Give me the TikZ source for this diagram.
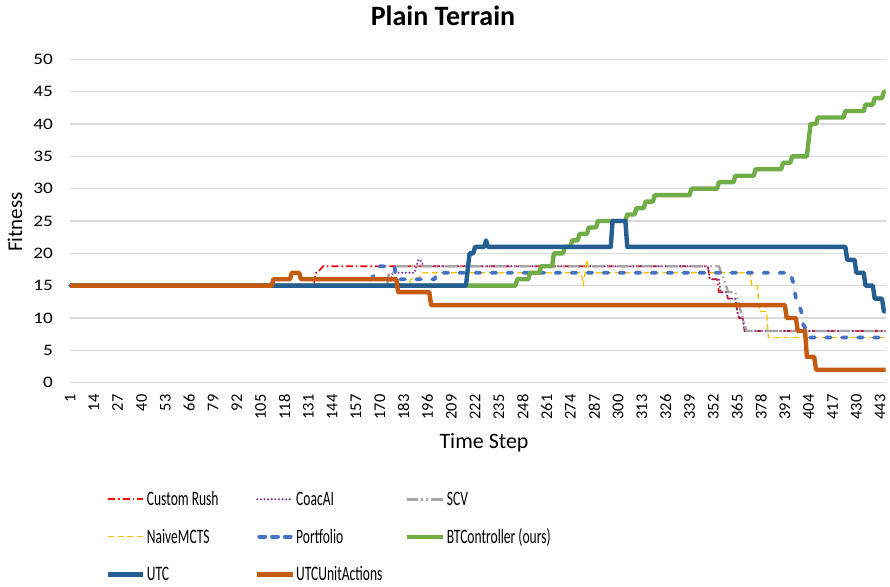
\documentclass[tikz,border=0pt]{standalone}
\usepackage{fontspec}
\setmainfont{Carlito}

\definecolor{rushred}{HTML}{FF0000}
\definecolor{coacpurple}{HTML}{7030A0}
\definecolor{scvgray}{HTML}{A5A5A5}
\definecolor{mctsyellow}{HTML}{FFC000}
\definecolor{portblue}{HTML}{4472C4}
\definecolor{btgreen}{HTML}{70AD47}
\definecolor{utcblue}{HTML}{255E91}
\definecolor{utcorange}{HTML}{C55A11}
\definecolor{gridgray}{HTML}{D9D9D9}

\tikzset{
  gridline/.style={gridgray, line width=1.3pt},
  series/.style={line join=round},
  s-rush/.style={series, rushred, line width=1.6pt, dash pattern=on 7pt off 3pt on 1.5pt off 3pt},
  s-coac/.style={series, coacpurple, line width=2.2pt, line cap=round, dash pattern=on 0pt off 3.6pt},
  s-scv/.style={series, scvgray, line width=2.4pt, dash pattern=on 11pt off 3.5pt on 1.5pt off 3.5pt on 1.5pt off 3.5pt},
  s-mcts/.style={series, mctsyellow, line width=1.3pt, dash pattern=on 6pt off 3.5pt},
  s-port/.style={series, portblue, line width=3.8pt, line cap=round, dash pattern=on 4.7pt off 11.3pt},
  s-portkey/.style={s-port, dash pattern=on 6pt off 6.7pt},
  s-btc/.style={series, btgreen, line width=4.4pt},
  s-utc/.style={series, utcblue, line width=4.4pt},
  s-utcua/.style={series, utcorange, line width=4.4pt},
  ytick/.style={anchor=east, inner sep=0pt, font=\fontsize{16}{19}\selectfont},
  xtick/.style={rotate=90, anchor=east, inner sep=0pt, font=\fontsize{16.4}{19}\selectfont},
  axtitle/.style={inner sep=0pt, font=\fontsize{21}{25}\selectfont},
  legtext/.style={anchor=base west, inner sep=0pt, font=\fontsize{20.5}{24}\selectfont},
}

\begin{document}
\begin{tikzpicture}[x=1pt,y=1pt]
\useasboundingbox (0,0) rectangle (890,586);
\fill[white] (0,0) rectangle (890,586);

% title
\node[anchor=base, inner sep=0pt, font=\fontsize{28}{34}\selectfont\bfseries] (title) at (443,560) {Plain Terrain};

% plot area: x in time steps, y in fitness units
\begin{scope}[shift={(68.167,203.3)}, x=1.833pt, y=6.468pt]
  \foreach \v in {0,5,...,50} {
    \draw[gridline] (1,\v) -- (446,\v);
    \node[ytick] (ylab\v) at ([xshift=-17pt]1,\v) {\scalebox{1.2}[1]{\v}};
  }
  \foreach \s in {1,14,...,443} {
    \node[xtick] (xlab\s) at ([yshift=-11.5pt]\s,0) {\s};
  }

  % Custom Rush
  \draw[s-rush] plot coordinates {(1,15) (134,15) (135,17) (136,17) (139,18) (349,18) (350,16) (354,16) (355,14) (359,14) (360,13) (364,13) (365,11) (366,10) (368,10) (369,8) (446,8)};
  % CoacAI
  \draw[s-coac] plot coordinates {(1,15) (175,15) (177,17) (189,17) (191,19) (192,19) (194,18) (349,18) (350,16) (355,16) (356,14) (359,14) (360,13) (364,13) (365,11) (366,10) (368,10) (369,8) (446,8)};
  % SCV
  \draw[s-scv] plot coordinates {(1,15) (174,15) (175,17) (178,17) (179,18) (355,18) (359,15) (360,14) (364,14) (367,11) (369,9) (370,8) (446,8)};
  % NaiveMCTS
  \draw[s-mcts] plot coordinates {(1,15) (186,15) (187,16) (191,16) (193,17) (280,17) (281,15) (282,17) (283,19) (284,17) (372,17) (373,15) (376,15) (377,11) (381,11) (382,7) (446,7)};
  % Portfolio
  \draw[s-port] plot coordinates {(1,15) (163,15) (170,18) (178,18) (179,16) (200,16) (201,17) (394,17) (396,15) (397,13) (400,11) (401,9) (403,8) (404,7) (446,7)};
  % BTController (ours)
  \draw[s-btc] plot coordinates {(1,15) (244,15) (245,16) (251,16) (252,17) (257,17) (258,18) (264,18) (265,20) (270,20) (271,21) (274,21) (275,22) (278,22) (279,23) (283,23) (284,24) (288,24) (289,25) (304,25) (305,26) (309,26) (310,27) (314,27) (315,28) (319,28) (320,29) (339,29) (340,30) (354,30) (355,31) (363,31) (364,32) (374,32) (375,33) (389,33) (390,34) (394,34) (395,35) (403,35) (405,40) (408,40) (409,41) (423,41) (424,42) (434,42) (435,43) (439,43) (440,44) (444,44) (445,45) (446,45)};
  % UTC
  \draw[s-utc] plot coordinates {(1,15) (217,15) (219,20) (221,20) (222,21) (227,21) (228,22) (229,21) (296,21) (297,25) (304,25) (305,21) (424,21) (425,19) (429,19) (430,17) (434,17) (435,15) (439,15) (440,13) (444,13) (445,11) (446,11)};
  % UTCUnitActions
  \draw[s-utcua] plot coordinates {(1,15) (111,15) (112,16) (121,16) (122,17) (126,17) (127,16) (179,16) (180,14) (197,14) (198,12) (391,12) (392,10) (397,10) (398,8) (402,8) (403,4) (407,4) (408,2) (446,2)};
\end{scope}

% axis titles
\node[axtitle, rotate=90] (ytitle) at (15,364) {Fitness};
\node[axtitle, anchor=base, font=\fontsize{22}{26}\selectfont] (xtitle) at (484,137) {Time Step};

% legend keys
\coordinate (k1a) at (108.3,86.7); \coordinate (k1b) at (143.3,86.7);
\coordinate (k2a) at (257.3,86.7); \coordinate (k2b) at (293.3,86.7);
\coordinate (k3a) at (406.7,86.7); \coordinate (k3b) at (443.3,86.7);
\coordinate (k4a) at (108.3,49.3); \coordinate (k4b) at (143.3,49.3);
\coordinate (k5a) at (259.3,49.3); \coordinate (k5b) at (291.3,49.3);
\coordinate (k6a) at (406.7,49.3); \coordinate (k6b) at (443.3,49.3);
\coordinate (k7a) at (108.3,11.7); \coordinate (k7b) at (143.3,11.7);
\coordinate (k8a) at (257.3,11.7); \coordinate (k8b) at (293.3,11.7);

\draw[s-rush, line width=1.9pt] (k1a) -- (k1b);
\draw[s-coac] (k2a) -- (k2b);
\draw[s-scv, dash pattern=on 11pt off 3.5pt on 1.5pt off 3.5pt on 1.5pt off 3.5pt on 11pt off 0pt] (k3a) -- (k3b);
\draw[s-mcts] (k4a) -- (k4b);
\draw[s-portkey] (k5a) -- (k5b);
\draw[s-btc] (k6a) -- (k6b);
\draw[s-utc] (k7a) -- (k7b);
\draw[s-utcua] (k8a) -- (k8b);

\node[legtext] (l1) at (146.7,80.3) {\scalebox{0.66}[1]{Custom Rush}};
\node[legtext] (l2) at (296,80.3) {\scalebox{0.66}[1]{CoacAI}};
\node[legtext] (l3) at (446.7,80.3) {\scalebox{0.66}[1]{SCV}};
\node[legtext] (l4) at (146.7,42.8) {\scalebox{0.66}[1]{NaiveMCTS}};
\node[legtext] (l5) at (296,42.8) {\scalebox{0.66}[1]{Portfolio}};
\node[legtext] (l6) at (446.7,42.8) {\scalebox{0.66}[1]{BTController (ours)}};
\node[legtext] (l7) at (146.7,5.3) {\scalebox{0.66}[1]{UTC}};
\node[legtext] (l8) at (296,5.3) {\scalebox{0.66}[1]{UTCUnitActions}};
\end{tikzpicture}
\end{document}
